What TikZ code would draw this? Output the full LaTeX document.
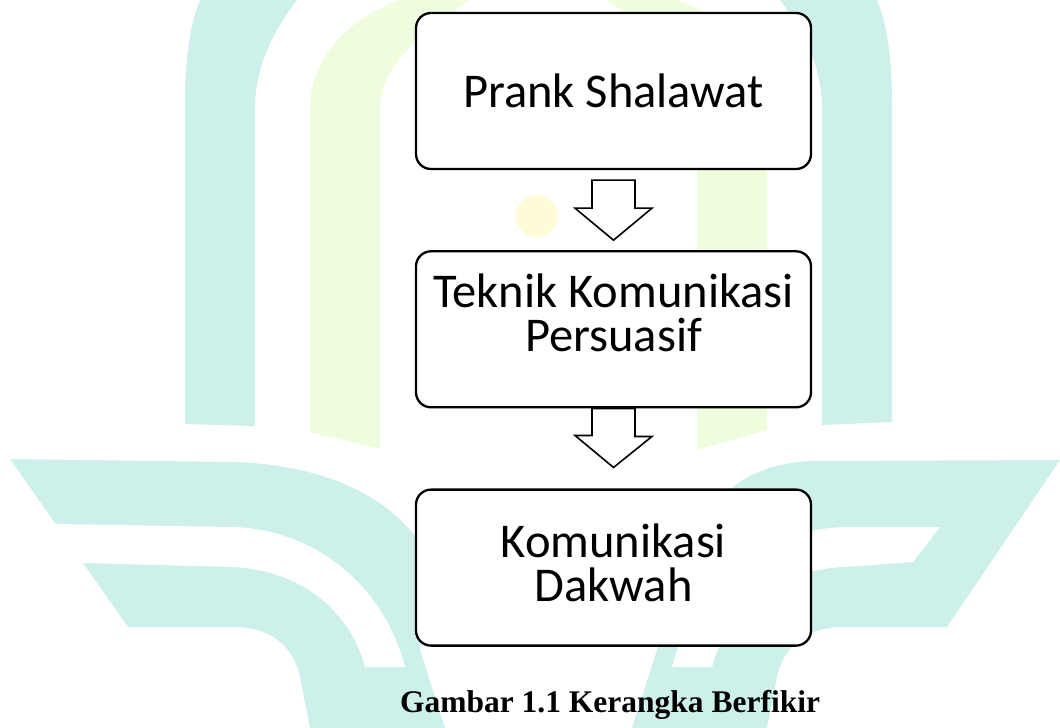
\documentclass[tikz,border=0pt]{standalone}
\usepackage{fontspec}
\usetikzlibrary{positioning}
\newfontfamily\boxfont{Carlito}
\newfontfamily\captionfont{Liberation Serif}
\definecolor{markteal}{RGB}{206,240,234}
\definecolor{markgreen}{RGB}{239,252,221}
\definecolor{markyellow}{RGB}{255,251,215}
\begin{document}
\begin{tikzpicture}
    [
        x = 1pt, y = -1pt,
        box/.style = {draw, fill = white, line width = 2.3pt, rounded corners = 15pt,
            minimum width = 395pt, minimum height = 156pt, inner sep = 0pt,
            align = center, font = {\boxfont\fontsize{48.5}{44}\selectfont}},
        downarrow/.style = {draw, fill = white, line width = 1.6pt, line join = miter}
    ]
        \useasboundingbox (0,0) rectangle (1060,728);

        % watermark
        \fill[markteal] (185,424) -- (185,100) .. controls (185,50) and (192,20) .. (200,0)
            -- (297,0) .. controls (270,35) and (255,70) .. (255,110) -- (255,426) -- cycle;
        \fill[markteal] (892,422) -- (892,100) .. controls (892,50) and (885,20) .. (877,0)
            -- (780,0) .. controls (807,35) and (822,70) .. (822,110) -- (822,425) -- cycle;
        \fill[markgreen] (310,432) -- (310,110) .. controls (310,60) and (345,20) .. (400,0)
            -- (470,0) .. controls (410,40) and (380,70) .. (380,110) -- (380,449) -- cycle;
        \fill[markgreen] (767,430) -- (767,110) .. controls (767,60) and (732,20) .. (677,0)
            -- (607,0) .. controls (667,40) and (697,70) .. (697,110) -- (697,450) -- cycle;
        \fill[markyellow] (537,216) circle[radius = 21];
        \fill[markteal] (10,459) -- (233,462) .. controls (330,465) and (400,500) .. (430,560)
            -- (420,650) -- (445,728) -- (310,728) -- (300,677)
            .. controls (293,645) and (270,627) .. (233,627) -- (128,627) -- cycle;
        \fill[white] (55,524) -- (233,527) .. controls (320,530) and (385,590) .. (405,667)
            -- (365,667) .. controls (350,610) and (300,570) .. (233,567) -- (83,563) -- cycle;
        \fill[markteal] (1060,460) -- (812,461) .. controls (760,463) and (720,485) .. (700,530)
            -- (657,650) -- (632,728) -- (767,728) -- (777,677)
            .. controls (784,645) and (807,627) .. (844,627) -- (947,627) -- cycle;
        \fill[white] (940,527) -- (844,527) .. controls (757,530) and (692,590) .. (672,667)
            -- (712,667) .. controls (727,610) and (777,570) .. (844,567) -- (913,562) -- cycle;

        \node[box] (prank) at (613.5,91) {Prank Shalawat};
        \node[box, below = 80pt of prank, text depth = 34pt] (teknik) {Teknik Komunikasi\\Persuasif};
        \node[box, below = 80pt of teknik, text depth = 10pt] (dakwah) {Komunikasi\\Dakwah};

        \draw[downarrow] ([shift = {(-21.5,10)}]prank.south) -- ++(43,0) -- ++(0,28) -- ++(17,0)
            -- ([shift = {(0,-10)}]teknik.north) -- ++(-38.5,-32) -- ++(17,0) -- cycle;
        \draw[downarrow] ([shift = {(-21.5,0)}]teknik.south) -- ++(43,0) -- ++(0,28) -- ++(17,0)
            -- ([shift = {(0,-21)}]dakwah.north) -- ++(-38.5,-32) -- ++(17,0) -- cycle;

        \node[anchor = base, font = {\captionfont\bfseries\fontsize{31.5}{36}\selectfont}]
            (caption) at (610,712) {Gambar 1.1 Kerangka Berfikir};
\end{tikzpicture}
\end{document}
